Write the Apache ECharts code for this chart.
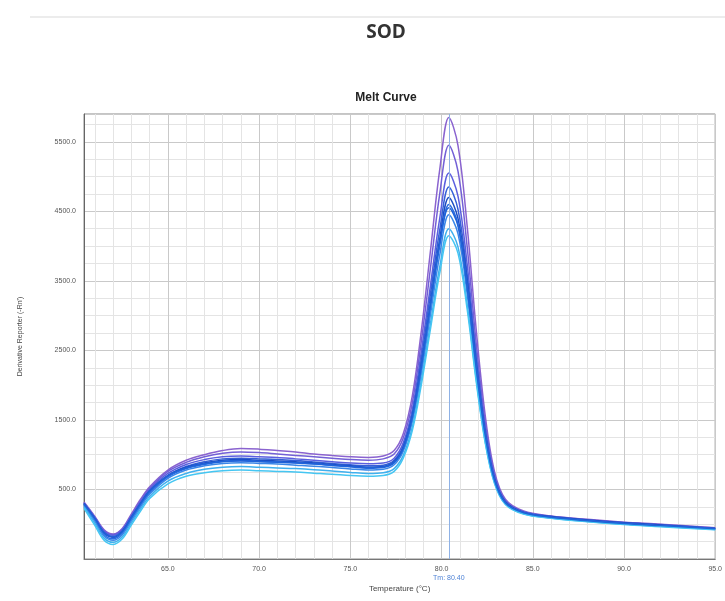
<!DOCTYPE html>
<html>
<head>
<meta charset="utf-8">
<title>SOD Melt Curve</title>
<script src="https://cdn.jsdelivr.net/npm/echarts@6/dist/echarts.min.js"></script>
<style>
    html, body { margin: 0; padding: 0; background: #fff; }
    #chart1 { width: 725px; height: 601px; }
</style>
</head>
<body>
<div id="chart1"></div>
<script>
// 温度
var temps = [60.4, 61.0, 61.5, 62.0, 62.5, 63.0, 63.5, 64.0, 65.0, 66.0,
    67.0, 68.0, 69.0, 70.0, 71.0, 72.0, 73.0, 74.0, 75.0, 76.0,
    76.8, 77.4, 77.9, 78.4, 78.9, 79.4, 79.9, 80.4, 80.9, 81.4,
    81.9, 82.4, 82.9, 83.5, 84.5, 86.0, 88.0, 90.0, 92.0, 95.0];

// 每条孔的导数曲线
var well1 = [320, 110, -80, -140, -60, 150, 360, 540, 780, 920, 1000, 1060, 1090, 1080, 1060, 1040, 1010, 990, 970, 960, 980, 1060, 1300, 1850, 2800, 3950, 5100, 5850, 5450, 4300, 2800, 1550, 760, 360, 190, 120, 70, 30, 0, -50];
var well2 = [310, 100, -90, -150, -70, 130, 340, 520, 760, 890, 970, 1020, 1040, 1030, 1010, 990, 970, 950, 930, 920, 940, 1010, 1240, 1750, 2650, 3700, 4750, 5450, 5080, 4000, 2600, 1450, 720, 340, 180, 115, 65, 25, -5, -55];
var well3 = [300, 90, -100, -160, -80, 120, 320, 500, 730, 860, 930, 970, 980, 970, 960, 940, 920, 900, 880, 870, 880, 950, 1170, 1650, 2500, 3450, 4400, 5050, 4720, 3750, 2450, 1380, 690, 330, 175, 110, 60, 20, -10, -60];
var well4 = [290, 70, -130, -190, -110, 90, 290, 470, 700, 830, 900, 940, 950, 940, 930, 915, 895, 875, 855, 840, 850, 920, 1130, 1600, 2400, 3330, 4230, 4850, 4530, 3600, 2380, 1340, 670, 320, 170, 105, 55, 15, -15, -65];
var well5 = [300, 80, -120, -180, -100, 100, 300, 480, 700, 820, 880, 920, 930, 920, 910, 900, 880, 860, 840, 820, 830, 900, 1100, 1550, 2300, 3200, 4100, 4700, 4400, 3500, 2300, 1300, 650, 320, 170, 110, 60, 20, -10, -60];
var well6 = [280, 60, -150, -210, -130, 70, 270, 450, 680, 800, 860, 900, 910, 900, 890, 880, 865, 845, 825, 805, 815, 880, 1080, 1520, 2250, 3130, 4000, 4600, 4320, 3430, 2260, 1280, 640, 310, 165, 100, 50, 10, -20, -65];
var well7 = [270, 40, -170, -230, -150, 50, 250, 430, 660, 780, 840, 875, 885, 875, 865, 850, 835, 815, 795, 780, 790, 855, 1050, 1480, 2180, 3030, 3870, 4450, 4180, 3320, 2190, 1240, 620, 300, 160, 95, 45, 5, -25, -70];
var well8 = [250, 10, -200, -260, -180, 20, 220, 400, 620, 730, 790, 820, 830, 820, 810, 800, 785, 765, 745, 730, 740, 800, 990, 1400, 2080, 2900, 3700, 4250, 3990, 3170, 2090, 1180, 600, 290, 150, 90, 40, 0, -30, -75];
var well9 = [230, -20, -230, -290, -210, -10, 190, 370, 580, 690, 740, 770, 780, 770, 760, 750, 735, 720, 700, 690, 700, 760, 950, 1350, 2020, 2820, 3610, 4150, 3900, 3100, 2050, 1160, 590, 285, 145, 85, 35, -5, -35, -80];
var well10 = [290, 80, -120, -180, -100, 100, 300, 480, 700, 810, 870, 905, 915, 905, 895, 885, 870, 850, 830, 815, 825, 890, 1090, 1540, 2280, 3170, 4050, 4550, 4290, 3410, 2250, 1270, 635, 305, 165, 100, 50, 10, -20, -65];

var wells = [well1, well2, well3, well4, well5, well6, well7, well8, well9, well10];
var wellColors = ['#8a63cf', '#7360d6', '#5b5fdf', '#3560d8', '#1c4cc2', '#2a6be0', '#3a86e8', '#3fb0ee', '#45c6f2', '#1f62d8'];

// Tm
var tmValue = 80.40;
var tmLabel = 'Tm: 80.40';

var series = [];
for (var i = 0; i < wells.length; i++) {
    var pts = [];
    for (var j = 0; j < temps.length; j++) {
        pts.push([temps[j], wells[i][j]]);
    }
    var s = {
        type: 'line',
        data: pts,
        showSymbol: false,
        smooth: 0.35,
        lineStyle: { width: 1.5, color: wellColors[i] },
        z: 3
    };
    if (i == 0) {
        s.markLine = {
            silent: true,
            symbol: 'none',
            lineStyle: { color: '#8fb2e6', width: 1, type: 'solid' },
            label: {
                show: true,
                position: 'start',
                distance: 16,
                formatter: tmLabel,
                color: '#4f83d6',
                fontSize: 7
            },
            data: [{ xAxis: tmValue }]
        };
    }
    series.push(s);
}

var option1 = {
    animation: false,
    backgroundColor: '#fff',
    title: [
        {
            text: 'SOD',
            left: 381,
            top: 18,
            textAlign: 'center',
            textStyle: { fontFamily: 'Open Sans', fontWeight: 'bold', fontSize: 19, color: '#333' }
        },
        {
            text: 'Melt Curve',
            left: 381,
            top: 87,
            textAlign: 'center',
            textStyle: { fontFamily: 'Liberation Sans', fontWeight: 'bold', fontSize: 12, color: '#222' }
        }
    ],
    graphic: [
        {
            type: 'line',
            shape: { x1: 30, y1: 17, x2: 725, y2: 17 },
            style: { stroke: '#ececec', lineWidth: 2 }
        }
    ],
    grid: {
        left: 84,
        right: 6,
        top: 114,
        bottom: 42,
        show: true,
        borderColor: '#8a8a8a',
        borderWidth: 1
    },
    xAxis: {
        type: 'value',
        min: 60.4,
        max: 95,
        splitNumber: 7,
        name: 'Temperature (°C)',
        nameLocation: 'middle',
        nameGap: 26,
        nameTextStyle: { fontFamily: 'Liberation Sans', fontSize: 8, color: '#444' },
        axisLine: { show: true, onZero: false, lineStyle: { color: '#777' } },
        axisTick: { show: false },
        axisLabel: {
            showMinLabel: false,
            margin: 7,
            fontFamily: 'Liberation Sans',
            fontSize: 7,
            color: '#555',
            formatter: function (v) { return v.toFixed(1); }
        },
        splitLine: { show: true, lineStyle: { color: '#c9c9c9', width: 1 } },
        minorTick: { show: false, splitNumber: 5 },
        minorSplitLine: { show: true, lineStyle: { color: '#e4e4e4', width: 1 } }
    },
    yAxis: {
        type: 'value',
        min: -500,
        max: 5900,
        interval: 1000,
        name: "Derivative Reporter (-Rn')",
        nameLocation: 'middle',
        nameGap: 60,
        nameTextStyle: { fontFamily: 'Liberation Sans', fontSize: 7, color: '#444' },
        axisLine: { show: true, onZero: false, lineStyle: { color: '#666' } },
        axisTick: { show: false },
        axisLabel: {
            showMinLabel: false,
            showMaxLabel: false,
            margin: 8,
            fontFamily: 'Liberation Sans',
            fontSize: 7,
            color: '#555',
            formatter: function (v) { return v.toFixed(1); }
        },
        splitLine: { show: true, lineStyle: { color: '#c9c9c9', width: 1 } },
        minorTick: { show: false, splitNumber: 4 },
        minorSplitLine: { show: true, lineStyle: { color: '#e4e4e4', width: 1 } }
    },
    series: series
};

//渲染图表
function drawCharts(id, option) {
    var mychart = echarts.init(document.getElementById(id));
    mychart.setOption(option);
}
drawCharts('chart1', option1);
</script>
</body>
</html>
